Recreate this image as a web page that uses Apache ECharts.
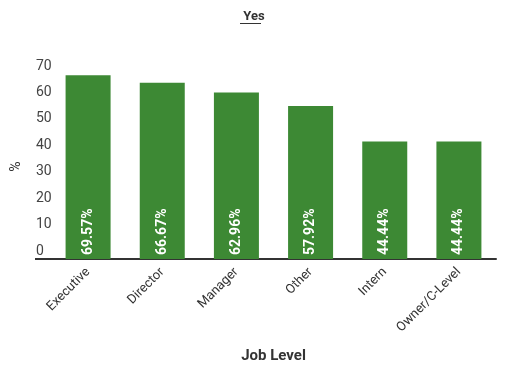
<!DOCTYPE html>
<html><head><meta charset="utf-8">
<script src="https://cdn.jsdelivr.net/npm/echarts@6/dist/echarts.min.js"></script>
<style>html,body{margin:0;padding:0;background:#fff}#c{width:521px;height:373px}</style>
</head><body><div id="c"></div>
<script>
var categories = ['Executive', 'Director', 'Manager', 'Other', 'Intern', 'Owner/C-Level'];
var values = [69.57, 66.67, 62.96, 57.92, 44.44, 44.44];
var yTicks = [0, 10, 20, 30, 40, 50, 60, 70];

var chart = echarts.init(document.getElementById('c'));
chart.setOption({
  animation: false,
  backgroundColor: '#fff',
  textStyle: { fontFamily: 'Roboto' },
  title: {
    text: 'Yes', left: 249, top: 5, textAlign: 'center',
    textStyle: { fontSize: 13, fontWeight: 'bold', color: '#333', fontFamily: 'Roboto' }
  },
  graphic: [
    { type: 'line', shape: { x1: 240, y1: 23.5, x2: 261, y2: 23.5 }, style: { stroke: '#333', lineWidth: 1 } },
    { type: 'line', shape: { x1: 35, y1: 259, x2: 52, y2: 259 }, style: { stroke: '#333', lineWidth: 2 } }
  ],
  grid: { left: 51, right: 25, top: 74, bottom: 114 },
  xAxis: {
    type: 'category', data: categories,
    name: 'Job Level', nameLocation: 'middle', nameGap: 90,
    nameTextStyle: { fontSize: 15, fontWeight: 'bold', color: '#333' },
    axisLine: { lineStyle: { color: '#333', width: 2 } },
    axisTick: { show: false },
    axisLabel: { rotate: 45, fontSize: 13, color: '#333', margin: 11, interval: 0 }
  },
  yAxis: {
    type: 'value', min: 0, max: 70, interval: 10,
    name: '%', nameLocation: 'middle', nameGap: 28, nameRotate: 90,
    nameTextStyle: { fontSize: 14, color: '#333' },
    axisLine: { show: false }, axisTick: { show: false }, splitLine: { show: false },
    axisLabel: {
      fontSize: 14, color: '#444', align: 'left', margin: 15,
      verticalAlign: 'bottom', padding: [0, 0, 1, 0],
      formatter: function (v) { return yTicks.indexOf(v) >= 0 ? String(v) : ''; }
    }
  },
  series: [{
    type: 'bar', data: values, barWidth: 45,
    itemStyle: { color: '#3d8934' },
    label: {
      show: true, position: 'insideBottom', rotate: 90, align: 'left', verticalAlign: 'middle',
      distance: 4, color: '#fff', fontSize: 14, fontWeight: 'bold',
      formatter: function (p) { return p.value.toFixed(2) + '%'; }
    }
  }]
});
</script></body></html>
